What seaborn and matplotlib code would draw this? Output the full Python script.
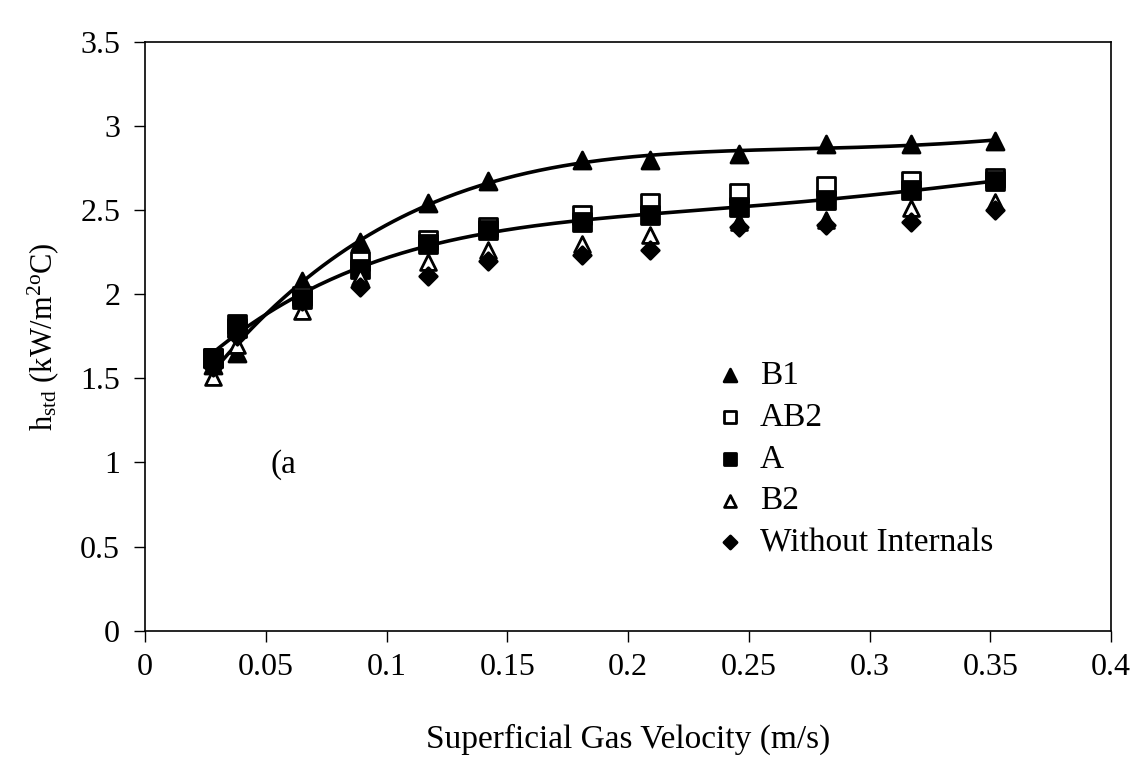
import numpy as np
import matplotlib
matplotlib.use("Agg")
import matplotlib.pyplot as plt
import seaborn as sns

velocity = [0.028, 0.038, 0.065, 0.089, 0.117, 0.142, 0.181, 0.209, 0.246, 0.282, 0.317, 0.352]
h_b1 = [1.58, 1.65, 2.08, 2.31, 2.54, 2.67, 2.80, 2.80, 2.83, 2.89, 2.89, 2.91]
h_ab2 = [1.62, 1.80, 1.99, 2.20, 2.32, 2.40, 2.47, 2.54, 2.60, 2.64, 2.67, 2.69]
h_a = [1.62, 1.82, 1.97, 2.15, 2.30, 2.38, 2.43, 2.47, 2.52, 2.56, 2.62, 2.67]
h_b2 = [1.51, 1.70, 1.90, 2.10, 2.19, 2.26, 2.30, 2.35, 2.43, 2.44, 2.51, 2.55]
h_none = [1.57, 1.75, 1.96, 2.04, 2.11, 2.20, 2.23, 2.26, 2.40, 2.41, 2.43, 2.50]

sns.set_style("ticks")
plt.rcParams['font.family'] = ['Liberation Serif', 'DejaVu Serif']
plt.rcParams['mathtext.fontset'] = 'custom'
plt.rcParams['mathtext.rm'] = 'Liberation Serif'
plt.rcParams['mathtext.it'] = 'Liberation Serif:italic'
for key in ('text.color', 'axes.labelcolor', 'xtick.color', 'ytick.color'):
    plt.rcParams[key] = 'black'

fig = plt.figure(figsize=(11.43, 7.59), dpi=100)
ax = fig.add_axes([0.127, 0.169, 0.845, 0.776])

# polynomial trend lines through B1 and A
xs = np.linspace(velocity[0], velocity[-1], 200)
for ys in (h_b1, h_a):
    coef = np.polyfit(velocity, ys, 4)
    sns.lineplot(x=xs, y=np.polyval(coef, xs), color='black', linewidth=2.6, ax=ax)

series = [
    ("B1", h_b1, '^', 'black', 150),
    ("AB2", h_ab2, 's', 'white', 150),
    ("A", h_a, 's', 'black', 150),
    ("B2", h_b2, '^', 'white', 130),
    ("Without Internals", h_none, 'D', 'black', 80),
]
for name, ys, mk, fc, size in series:
    sns.scatterplot(x=velocity, y=ys, marker=mk, s=size, facecolor=fc,
                    edgecolor='black', linewidth=2, label=name, ax=ax, zorder=3)

ax.set_xlim(0, 0.4)
ax.set_ylim(0, 3.5)
ax.set_xticks(np.arange(0, 0.401, 0.05))
ax.set_xticklabels(['0', '0.05', '0.1', '0.15', '0.2', '0.25', '0.3', '0.35', '0.4'])
ax.set_yticks(np.arange(0, 3.51, 0.5))
ax.set_yticklabels(['0', '0.5', '1', '1.5', '2', '2.5', '3', '3.5'])
ax.tick_params(axis='both', labelsize=23, length=8, width=1, direction='out')
ax.tick_params(axis='x', pad=8)
ax.tick_params(axis='y', pad=10)
for sp in ax.spines.values():
    sp.set_linewidth(1.2)
    sp.set_color('black')

ax.set_xlabel("Superficial Gas Velocity (m/s)", fontsize=24, labelpad=30)
ax.set_ylabel(r"h$_{\rm std}$ (kW/m$^{\rm 2o}$C)", fontsize=22, labelpad=14)
ax.text(0.052, 0.99, "(a", fontsize=24, va='center')

leg = ax.legend(loc='upper left', bbox_to_anchor=(0.55, 0.51), frameon=False,
                fontsize=24, handlelength=1.4, handletextpad=0.2,
                labelspacing=0.34, markerscale=0.75)

fig.savefig("out.png", dpi=100)
